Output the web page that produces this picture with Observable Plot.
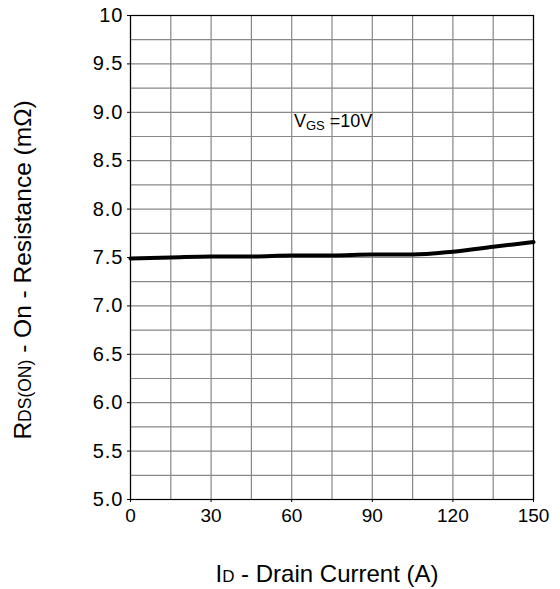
<!DOCTYPE html>
<html><head><meta charset="utf-8">
<script src="https://cdn.jsdelivr.net/npm/d3@7"></script>
<script src="https://cdn.jsdelivr.net/npm/@observablehq/plot@0.6"></script>
<style>body{margin:0;background:#fff;font-family:"Liberation Sans",Arial,sans-serif}</style>
</head><body><div id="chart"></div>
<script>
const currents = [0, 15, 30, 45, 60, 75, 90, 105, 120, 135, 150];
const resistance = [7.49, 7.50, 7.51, 7.51, 7.52, 7.52, 7.53, 7.53, 7.56, 7.61, 7.66];
const xTicks = [0, 30, 60, 90, 120, 150];
const yTicks = [5, 5.5, 6, 6.5, 7, 7.5, 8, 8.5, 9, 9.5, 10];
const xGrid = d3.range(0, 151, 15);
const yGrid = d3.range(5, 10.01, 0.25);
const data = currents.map((c, i) => ({c, r: resistance[i]}));

const chart = Plot.plot({
  width: 560, height: 589,
  marginLeft: 130, marginRight: 27, marginTop: 15, marginBottom: 90,
  style: {fontFamily: '"Liberation Sans", Arial, sans-serif', fontSize: "19px", color: "#000", background: "#fff"},
  x: {domain: [0, 150]},
  y: {domain: [5, 10]},
  marks: [
    Plot.ruleX(xGrid, {stroke: "#888", strokeWidth: 1.2, strokeOpacity: 1}),
    Plot.ruleY(yGrid, {stroke: "#888", strokeWidth: 1.2, strokeOpacity: 1}),
    Plot.frame({stroke: "#000", strokeWidth: 1.2}),
    Plot.axisX(xTicks, {tickSize: 3, tickPadding: 6, fontSize: 19, label: null, stroke: "#000"}),
    Plot.axisY(yTicks, {tickSize: 3, tickPadding: 4, fontSize: 19, label: null, tickFormat: d => d === 10 ? "10" : d.toFixed(1), stroke: "#000"}),
    Plot.line(data, {x: "c", y: "r", stroke: "#000", strokeWidth: 4, curve: "monotone-x"})
  ]
});
document.getElementById("chart").appendChild(chart);

const svg = d3.select(chart);
svg.selectAll('g[aria-label="y-axis tick label"] text').style("font-size", "20px").style("letter-spacing", "1px");
const sx = chart.scale("x"), sy = chart.scale("y");
// annotation
const ann = svg.append("text").attr("x", sx.apply(61)).attr("y", sy.apply(8.84))
  .attr("text-anchor", "start").attr("font-size", 18).attr("fill", "#000");
ann.append("tspan").text("V");
ann.append("tspan").attr("font-size", 13).attr("dy", 3).text("GS");
ann.append("tspan").attr("dy", -3).text(" =10V");

// x label
const xl = svg.append("text").attr("x", 327).attr("y", 582).attr("text-anchor", "middle")
  .attr("font-size", 24).attr("fill", "#000");
xl.append("tspan").text("I");
xl.append("tspan").attr("font-size", 17).text("D");
xl.append("tspan").text(" - Drain Current (A)");

// y label
const yl = svg.append("text").attr("transform", "translate(31,270) rotate(-90)").attr("text-anchor", "middle")
  .attr("font-size", 24.5).attr("fill", "#000");
yl.append("tspan").text("R");
yl.append("tspan").attr("font-size", 17.5).text("DS(ON)");
yl.append("tspan").text(" - On - Resistance (mΩ)");
</script></body></html>
